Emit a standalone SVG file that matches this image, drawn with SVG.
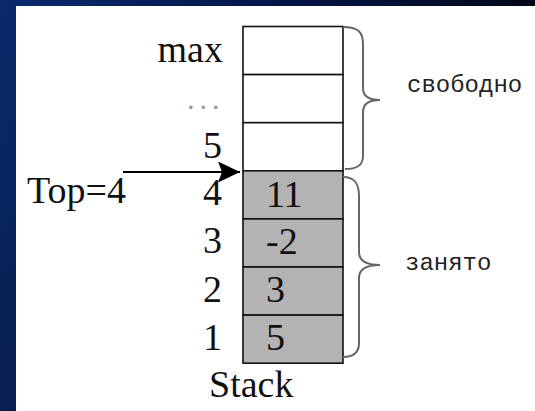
<svg xmlns="http://www.w3.org/2000/svg" width="535" height="411" viewBox="0 0 535 411">
  <defs>
    <linearGradient id="frame" x1="0" y1="0" x2="1" y2="0">
      <stop offset="0" stop-color="#0a2a6c"/>
      <stop offset="0.5" stop-color="#03164a"/>
      <stop offset="1" stop-color="#000818"/>
    </linearGradient>
    <linearGradient id="shade" x1="0" y1="0" x2="0" y2="1">
      <stop offset="0" stop-color="#000000" stop-opacity="0"/>
      <stop offset="1" stop-color="#000000" stop-opacity="0.25"/>
    </linearGradient>
    <marker id="head" viewBox="0 0 22 21" refX="22" refY="10.5" markerWidth="22" markerHeight="21" markerUnits="userSpaceOnUse" orient="auto">
      <path d="M0,0 L22,10.5 L0,21 L4,10.5 Z" fill="#000"/>
    </marker>
  </defs>
  <style>
    .serif { font-family: "Liberation Serif", "Times New Roman", serif; font-size: 38px; fill: #111; }
    .dots { font-family: "Liberation Serif", "Times New Roman", serif; font-size: 30px; fill: #999; letter-spacing: 5px; }
    .mono { font-family: "Liberation Mono", "Courier New", monospace; font-size: 24px; fill: #222; }
    .cell { stroke: #111; stroke-width: 1.6; }
    .free { fill: #ffffff; }
    .used { fill: #b3b3b3; }
    .brace { fill: none; stroke: #666; stroke-width: 2; }
    .edge { fill: none; stroke: #000; stroke-width: 2; }
  </style>

  <!-- slide frame and white page -->
  <rect x="0" y="0" width="535" height="411" fill="url(#frame)"/>
  <rect x="0" y="0" width="535" height="411" fill="url(#shade)"/>
  <rect x="16" y="6" width="519" height="405" fill="#ffffff"/>

  <!-- stack cells, top (max) to bottom (1) -->
  <g id="cell-max"><rect class="cell free" x="243" y="26.5" width="100" height="48.1"/></g>
  <g id="cell-dots"><rect class="cell free" x="243" y="74.6" width="100" height="48.1"/></g>
  <g id="cell-5"><rect class="cell free" x="243" y="122.7" width="100" height="48.1"/></g>
  <g id="cell-4">
    <rect class="cell used" x="243" y="170.8" width="100" height="48.1"/>
    <text class="serif" x="266" y="207">11</text>
  </g>
  <g id="cell-3">
    <rect class="cell used" x="243" y="218.9" width="100" height="48.1"/>
    <text class="serif" x="266" y="254">-2</text>
  </g>
  <g id="cell-2">
    <rect class="cell used" x="243" y="267" width="100" height="48.1"/>
    <text class="serif" x="266" y="302">3</text>
  </g>
  <g id="cell-1">
    <rect class="cell used" x="243" y="315.1" width="100" height="48.1"/>
    <text class="serif" x="266" y="350">5</text>
  </g>

  <!-- index labels -->
  <g id="indices">
    <text class="serif" x="223" y="62" text-anchor="end">max</text>
    <text class="dots" x="187" y="109">...</text>
    <text class="serif" x="222" y="158" text-anchor="end">5</text>
    <text class="serif" x="222" y="205" text-anchor="end">4</text>
    <text class="serif" x="222" y="253" text-anchor="end">3</text>
    <text class="serif" x="222" y="302" text-anchor="end">2</text>
    <text class="serif" x="222" y="350" text-anchor="end">1</text>
  </g>

  <g id="stack-label"><text class="serif" x="209" y="397">Stack</text></g>
  <g id="top-label"><text class="serif" x="27" y="203">Top=4</text></g>

  <!-- braces -->
  <g id="free-group">
    <path class="brace" d="M343,27 C358,27 363,32 363,44 L363,88 C363,96 368,100 380,100 C368,100 363,104 363,112 L363,156 C363,166 356,169 345,169"/>
    <text class="mono" x="407" y="92">свободно</text>
  </g>
  <g id="used-group">
    <path class="brace" d="M343,177 C355,177 359,184 359,196 L359,252 C359,261 366,265 380,265 C366,265 359,270 359,278 L359,343 C359,353 353,357 343,357"/>
    <text class="mono" x="405" y="270">занято</text>
  </g>

  <!-- connectors -->
  <g id="connectors">
    <path class="edge" d="M123,172 L240,172" marker-end="url(#head)"/>
  </g>
</svg>
